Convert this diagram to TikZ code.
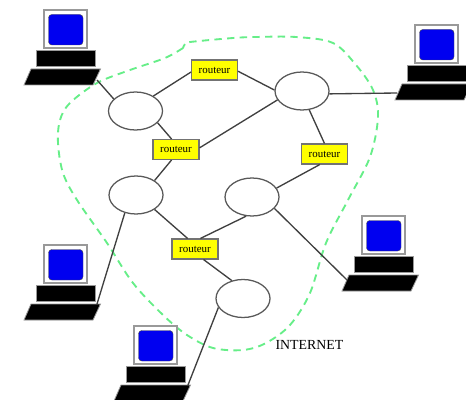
\documentclass[tikz,border=0pt]{standalone}
\usepackage{fontspec}
\setmainfont{Liberation Serif}
\usetikzlibrary{shapes.geometric}
\definecolor{cloud}{HTML}{66EE88}
\definecolor{bluescreen}{HTML}{0000F0}
\definecolor{routeryellow}{HTML}{FFFF00}
\tikzset{
  hub/.style={draw=black!65,line width=0.95pt,fill=white,ellipse,inner sep=0pt,minimum width=40.5pt,minimum height=28.5pt},
  routeur/.style={draw=black!55,line width=0.8pt,fill=routeryellow,inner sep=0pt,minimum width=34.5pt,minimum height=15pt,font=\fontsize{8.2}{9}\selectfont},
  link/.style={draw=black!75,line width=1pt},
  cloudline/.style={draw=cloud,line width=1.4pt,dash pattern=on 5.5pt off 4pt},
  monitorbox/.style={draw=black!40,line width=1pt,fill=white},
  screenbox/.style={draw=black!70,line width=0.3pt,fill=bluescreen,rounded corners=2.5pt},
  basebox/.style={draw=black!40,line width=0.6pt,fill=black},
}
% #1 name, (#2,#3) top-left of the monitor, (#4,#5) attachment offset
\newcommand{\computer}[5]{%
  \begin{scope}[shift={(#2,#3)}]
    \draw[monitorbox] (0,0) rectangle (43,38);
    \draw[screenbox] (4.5,4.5) rectangle (39,35);
    \draw[basebox] (-7.5,40) rectangle (51,56.5);
    \draw[basebox] (-13,59) -- (56.5,59) -- (49,75) -- (-20,75) -- cycle;
    \coordinate (#1) at (#4,#5);
  \end{scope}}
\begin{document}
\begin{tikzpicture}[x=0.75pt,y=-0.75pt]
\useasboundingbox (0,0) rectangle (466,399);
\clip (0,0) rectangle (466,399);
\fill[white] (0,0) rectangle (466,399);
\draw[cloudline] plot[smooth,tension=0.55] coordinates {(183,48) (165,58) (130,70) (97,83) (70,103) (60,120) (58,143) (63,173) (77,200) (107,243) (133,283) (163,315) (187,335) (213,348) (243,350) (266,343) (290,325) (310,293) (326,243) (348,200) (370,157) (378,117) (373,90) (356,65) (333,43) (296,37) (256,37) (233,38) (190,42) (185,44) (183,48)};
\computer{c1}{44}{10}{53}{70}
\computer{c2}{415}{25}{-18}{68}
\computer{c3}{44}{245}{53}{59}
\computer{c4}{134}{326}{54}{59}
\computer{c5}{362}{216}{-15}{64}
\node[hub] (e1) at (135.5,111) {};
\node[hub] (e2) at (302,91) {};
\node[hub] (e3) at (136,195) {};
\node[hub] (e4) at (252,197) {};
\node[hub] (e5) at (243,298.5) {};
\node[routeur] (r1) at (214.5,70) {routeur};
\node[routeur] (r2) at (176,149.5) {routeur};
\node[routeur] (r3) at (324.5,154) {routeur};
\node[routeur] (r4) at (195,249) {routeur};
\node[font=\fontsize{10.4}{12}\selectfont,inner sep=0pt] (inet) at (309.5,345) {INTERNET};
\path[link] (c1) -- (e1.151);
\path[link] (e1.40) -- (r1.185);
\path[link] (r1.-3) -- (e2.178);
\path[link] (e1.-28) -- (r2.113);
\path[link] (r2.4) -- (e2.200);
\path[link] (r2.-113) -- (e3.38);
\path[link] (e2.-69) -- (r3.90);
\path[link] (r3.-114) -- (e4.20);
\path[link] (e4.-27) -- (c5);
\path[link] (e4.-107) -- (r4.63);
\path[link] (e3.-38) -- (r4.125);
\path[link] (r4.-51) -- (e5.122);
\path[link] (e3.-122) -- (c3);
\path[link] (e5.200) -- (c4);
\path[link] (e2.-6) -- (c2);
\end{tikzpicture}
\end{document}
